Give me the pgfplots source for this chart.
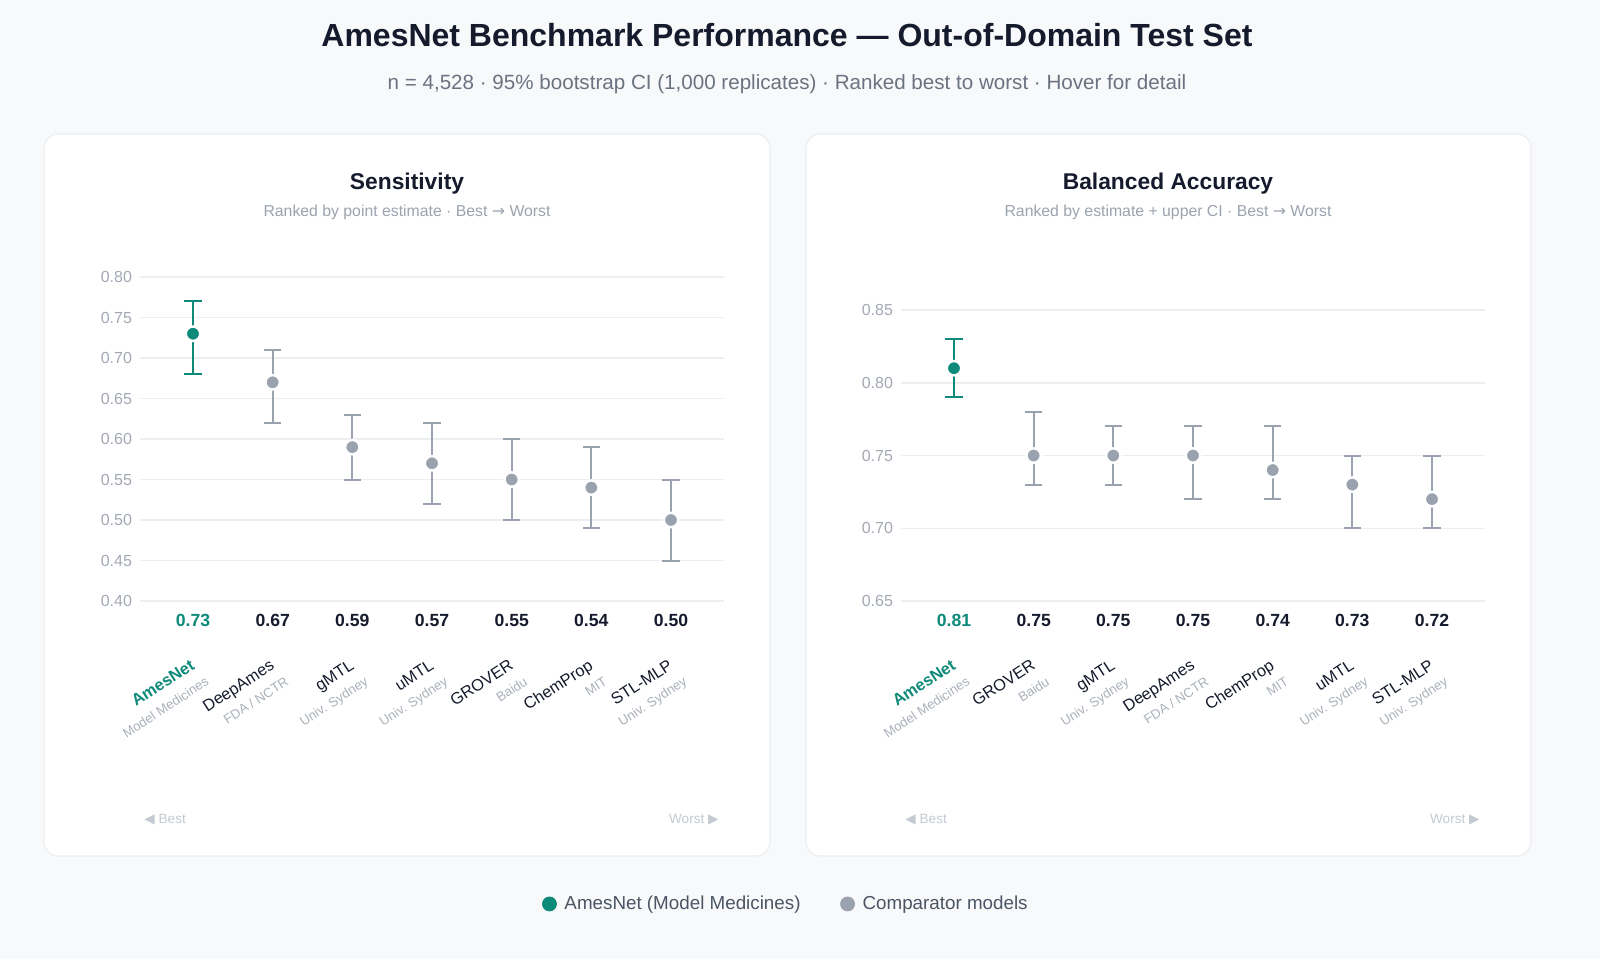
\documentclass[border=0pt]{standalone}
\usepackage{pgfplots}
\pgfplotsset{compat=1.18}
\usepackage{fontspec}
\setmainfont{Liberation Sans}
\newfontfamily\sym{DejaVu Sans}
\definecolor{bg}{HTML}{F8F9FB}
\definecolor{amesc}{HTML}{0E8A7A}
\definecolor{comp}{HTML}{9BA2AF}
\definecolor{ink}{HTML}{151B2C}
\definecolor{subg}{HTML}{6B7280}
\definecolor{lite}{HTML}{9CA3AF}
\definecolor{tickc}{HTML}{A3A9B4}
\definecolor{gridc}{HTML}{ECEEF2}
\definecolor{orgc}{HTML}{ABB1BB}
\definecolor{bw}{HTML}{C5CAD2}
\definecolor{cardb}{HTML}{ECEEF1}
\definecolor{legc}{HTML}{4B5563}

\pgfplotsset{
  panel/.style={
    scale only axis, width=292pt,
    xmin=-0.665, xmax=6.665,
    axis line style={draw=none},
    major tick length=0pt,
    tick style={draw=none},
    xtick=\empty,
    ymajorgrids,
    grid style={gridc, line width=0.75pt},
    yticklabel style={font=\fontsize{8}{9}\selectfont, color=tickc, xshift=-0.5pt},
    yticklabel={\pgfmathprintnumber[fixed, fixed zerofill, precision=2, assume math mode=true]{\tick}},
    clip=false,
  },
  dots/.style={
    only marks, mark=*, mark size=3.6pt, color=#1,
    mark options={fill=#1, draw=white, line width=1.2pt},
    error bars/y dir=both, error bars/y explicit,
    error bars/error bar style={line width=1pt, color=#1},
    error bars/error mark options={rotate=90, mark size=4.3pt, line width=1pt, color=#1},
  },
}

\newcommand\catlabel[4]{%
  \node[rotate=33, anchor=base east, inner sep=0pt, font=\fontsize{8.2}{9}\selectfont, text=#4] at (#1+3,668) {#2};
  \node[rotate=33, anchor=base east, inner sep=0pt, font=\fontsize{6.6}{7}\selectfont, text=orgc] at (#1+17,684) {#3};}
\newcommand\vallabel[3]{%
  \node[anchor=base, inner sep=0pt, font=\fontsize{8.8}{10}\selectfont\bfseries, text=#3] at (#1,626) {#2};}

\begin{document}
\begin{tikzpicture}[x=0.5pt, y=-0.5pt]
% background
\fill[bg] (0,0) rectangle (1600,959);
% titles
\node[anchor=base, inner sep=0pt, font=\fontsize{16}{19}\selectfont\bfseries, text=ink] at (787,46) {AmesNet Benchmark Performance — Out-of-Domain Test Set};
\node[anchor=base, inner sep=0pt, font=\fontsize{10.3}{12}\selectfont, text=subg] at (787,89) {n = 4,528 · 95\% bootstrap CI (1,000 replicates) · Ranked best to worst · Hover for detail};
% cards
\draw[cardb, line width=0.6pt, fill=white, rounded corners=7pt] (44,134) rectangle (770,856);
\draw[cardb, line width=0.6pt, fill=white, rounded corners=7pt] (806,134) rectangle (1531,856);
% panel titles
\node[anchor=base, inner sep=0pt, font=\fontsize{11.4}{13}\selectfont\bfseries, text=ink] at (407,189) {Sensitivity};
\node[anchor=base, inner sep=0pt, font=\fontsize{7.9}{9}\selectfont, text=lite] at (407,216) {Ranked by point estimate · Best {\sym →} Worst};
\node[anchor=base, inner sep=0pt, font=\fontsize{11.4}{13}\selectfont\bfseries, text=ink] at (1168,189) {Balanced Accuracy};
\node[anchor=base, inner sep=0pt, font=\fontsize{7.9}{9}\selectfont, text=lite] at (1168,216) {Ranked by estimate + upper CI · Best {\sym →} Worst};

% left axis
\begin{axis}[panel, at={(70pt,-300.5pt)}, anchor=south west, height=162pt,
  ymin=0.40, ymax=0.80, ytick={0.40,0.45,...,0.801},
  legend columns=2,
  legend style={at={(1.108,-0.935)}, anchor=center, draw=none, fill=none,
    font=\fontsize{9.4}{11}\selectfont, text=legc,
    /tikz/every odd column/.append style={column sep=2pt},
    /tikz/every even column/.append style={column sep=18pt}},
  legend image code/.code={\draw[#1] plot coordinates {(0pt,0pt)};},
]
\addplot[forget plot, dots=comp] coordinates {
  (1,0.67) += (0,0.04) -= (0,0.05)
  (2,0.59) += (0,0.04) -= (0,0.04)
  (3,0.57) += (0,0.05) -= (0,0.05)
  (4,0.55) += (0,0.05) -= (0,0.05)
  (5,0.54) += (0,0.05) -= (0,0.05)
  (6,0.50) += (0,0.05) -= (0,0.05)
};
\addplot[forget plot, dots=amesc] coordinates {
  (0,0.73) += (0,0.04) -= (0,0.05)
};
\addlegendimage{only marks, mark=*, mark size=3.5pt, color=amesc}
\addlegendentry{AmesNet (Model Medicines)}
\addlegendimage{only marks, mark=*, mark size=3.5pt, color=comp}
\addlegendentry{Comparator models}
\end{axis}

% right axis
\begin{axis}[panel, at={(450.5pt,-300.5pt)}, anchor=south west, height=145.5pt,
  ymin=0.65, ymax=0.85, ytick={0.65,0.70,...,0.851}]
\addplot[dots=comp] coordinates {
  (1,0.75) += (0,0.03) -= (0,0.02)
  (2,0.75) += (0,0.02) -= (0,0.02)
  (3,0.75) += (0,0.02) -= (0,0.03)
  (4,0.74) += (0,0.03) -= (0,0.02)
  (5,0.73) += (0,0.02) -= (0,0.03)
  (6,0.72) += (0,0.03) -= (0,0.02)
};
\addplot[dots=amesc] coordinates {
  (0,0.81) += (0,0.02) -= (0,0.02)
};
\end{axis}

% value labels, left
\vallabel{193}{0.73}{amesc}
\vallabel{272.7}{0.67}{ink}
\vallabel{352.3}{0.59}{ink}
\vallabel{432}{0.57}{ink}
\vallabel{511.7}{0.55}{ink}
\vallabel{591.3}{0.54}{ink}
\vallabel{671}{0.50}{ink}
% category labels, left
\catlabel{193}{\bfseries AmesNet}{Model Medicines}{amesc}
\catlabel{272.7}{DeepAmes}{FDA / NCTR}{ink}
\catlabel{352.3}{gMTL}{Univ. Sydney}{ink}
\catlabel{432}{uMTL}{Univ. Sydney}{ink}
\catlabel{511.7}{GROVER}{Baidu}{ink}
\catlabel{591.3}{ChemProp}{MIT}{ink}
\catlabel{671}{STL-MLP}{Univ. Sydney}{ink}
% value labels, right
\vallabel{954}{0.81}{amesc}
\vallabel{1033.7}{0.75}{ink}
\vallabel{1113.3}{0.75}{ink}
\vallabel{1193}{0.75}{ink}
\vallabel{1272.7}{0.74}{ink}
\vallabel{1352.3}{0.73}{ink}
\vallabel{1432}{0.72}{ink}
% category labels, right
\catlabel{954}{\bfseries AmesNet}{Model Medicines}{amesc}
\catlabel{1033.7}{GROVER}{Baidu}{ink}
\catlabel{1113.3}{gMTL}{Univ. Sydney}{ink}
\catlabel{1193}{DeepAmes}{FDA / NCTR}{ink}
\catlabel{1272.7}{ChemProp}{MIT}{ink}
\catlabel{1352.3}{uMTL}{Univ. Sydney}{ink}
\catlabel{1432}{STL-MLP}{Univ. Sydney}{ink}

% best / worst
\node[anchor=base west, inner sep=0pt, font=\fontsize{6.8}{8}\selectfont, text=bw] at (144,823) {{\sym ◀} Best};
\node[anchor=base east, inner sep=0pt, font=\fontsize{6.8}{8}\selectfont, text=bw] at (719,823) {Worst {\sym ▶}};
\node[anchor=base west, inner sep=0pt, font=\fontsize{6.8}{8}\selectfont, text=bw] at (905,823) {{\sym ◀} Best};
\node[anchor=base east, inner sep=0pt, font=\fontsize{6.8}{8}\selectfont, text=bw] at (1480,823) {Worst {\sym ▶}};
\end{tikzpicture}
\end{document}
